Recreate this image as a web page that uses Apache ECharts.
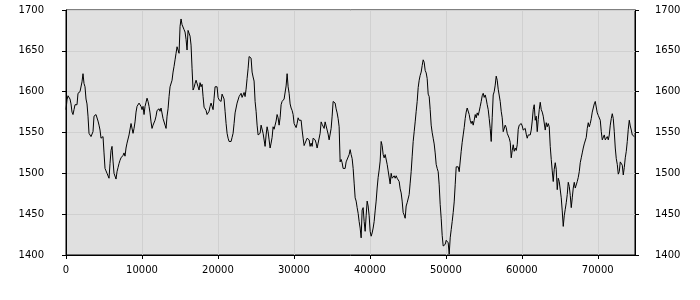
<!DOCTYPE html>
<html>
<head>
<meta charset="utf-8">
<script src="https://cdn.jsdelivr.net/npm/echarts@6/dist/echarts.min.js"></script>
<style>html,body{margin:0;padding:0;background:#fff}#c{width:700px;height:300px}</style>
</head>
<body>
<div id="c"></div>
<script>
// X positions: evenly spaced samples
const xStep = 131.7;
const xMax = 74900;
const yTicks = [1400, 1450, 1500, 1550, 1600, 1650, 1700];
const xTicks = [0, 10000, 20000, 30000, 40000, 50000, 60000, 70000];
// Series values
const values = [
1578,1590,1595,1595,1591,1585,1575,1572,1578,1584,
1582,1584,1598,1598,1600,1600,1612,1622,1610,1606,
1591,1585,1570,1549,1547,1545,1544,1551,1570,1572,
1572,1574,1564,1559,1553,1543,1543,1545,1525,1506,
1503,1500,1500,1494,1512,1528,1533,1515,1500,1498,
1493,1502,1507,1512,1516,1519,1520,1522,1525,1521,
1531,1537,1539,1547,1545,1561,1559,1549,1555,1563,
1575,1582,1582,1586,1585,1582,1578,1582,1572,1582,
1587,1592,1588,1582,1574,1563,1555,1559,1558,1565,
1570,1577,1579,1579,1576,1580,1580,1567,1568,1559,
1555,1570,1579,1594,1606,1606,1614,1624,1631,1639,
1647,1655,1654,
1647,1680,1689,1682,1681,1676,1673,1664,1651,1675,
1675,1668,1657,1628,1602,1605,1610,1614,1614,1606,
1602,1611,1606,1609,1594,1581,1579,1577,1572,1572,
1576,1582,1586,1586,1578,1592,1606,1606,1606,1593,
1590,1590,1588,1597,1596,1591,1576,1561,1549,1543,
1539,1538,1539,1544,1549,1561,1574,1580,1586,1588,
1594,1595,1598,1593,1592,1599,1594,1603,1616,1628,
1643,1644,1641,1624,1618,1613,1588,1576,1559,1547,
1547,1549,1559,1559,1549,1550,1533,1547,1557,1551,
1541,1531,1537,1544,1557,1554,1559,1564,1572,1568,
1559,1568,1584,1588,1586,1591,1592,1607,1622,1606,
1598,1585,1580,1577,
1572,1561,1563,1556,1561,1568,1565,1565,1565,1553,
1543,1534,1537,1537,1543,1545,1541,1533,1537,1533,
1543,1541,1541,1537,1531,1537,1537,1549,1563,1560,
1561,1555,1563,1558,1553,1548,1541,1540,1555,1570,
1588,1587,1586,1579,1574,1567,1557,1514,1517,1513,
1506,1505,1506,1514,1513,1520,1523,1529,1523,1518,
1506,1488,1470,1466,1458,1451,1441,1433,1421,1455,
1458,1441,1429,1448,1466,1460,1448,1429,1423,1427,
1433,1441,1454,1466,1482,1495,1504,1515,1539,1534,
1523,1519,1523,1525,1511,1503,1502,1487,1500,1494,
1494,1497,1494,1497,1494,1496,1490,1481,1476,1466,
1452,1449,1445,1460,
1464,1464,1474,1488,1502,1521,1539,1551,1563,1576,
1588,1605,1614,1620,1624,1632,1639,1636,1626,1623,
1616,1597,1594,1578,1559,1550,1543,1536,1525,1511,
1506,1502,1486,1462,1445,1424,1411,1412,1413,1418,
1419,1415,1401,1421,1431,1441,1452,1465,1486,1508,
1509,1508,1502,1501,1527,1538,1547,1556,1567,1575,
1580,1579,1572,1565,1561,1564,1559,1565,1572,1568,
1574,1571,1576,1582,1588,1595,1598,1593,1596,1591,
1584,1578,1567,1555,1539,1568,1596,1600,1608,1619,
1614,1603,1604,1588,1576,1568,1551,1550,1559,1556,
1549,1549,1543,1538,1519,1528,1535,1527,1531,1528,
1535,1554,1559,1561,
1561,1558,1553,1554,1555,1548,1543,1547,1549,1547,
1553,1564,1578,1584,1565,1570,1551,1566,1578,1587,
1578,1575,1570,1569,1553,1562,1557,1561,1557,1533,
1517,1503,1490,1505,1513,1505,1480,1494,1490,1492,
1470,1454,1435,1448,1456,1464,1474,1489,1484,1473,
1458,1470,1482,1489,1482,1482,1490,1495,1502,1513,
1519,1525,1531,1536,1537,1544,1555,1562,1557,1561,
1567,1575,1580,1585,1588,1588,1574,1571,1570,1565,
1551,1541,1541,1547,1541,1540,1545,1541,1547,1559,
1567,1573,1567,1551,1531,1518,1511,1499,1502,1514,
1513,1510,1498,1507,1519,1527,1539,1554,1565,1558,
1553,1547,1546,1545
];

const seriesData = values.map((v, i) => [i * xStep, v]);
const font = 'DejaVu Sans';
const chart = echarts.init(document.getElementById('c'), null, {renderer: 'canvas'});
const yAxisBase = (pos, margin) => ({
  type: 'value', position: pos, min: yTicks[0], max: yTicks[yTicks.length - 1], interval: 50,
  axisLine: {show: true, lineStyle: {color: '#000', width: 1}},
  axisTick: {show: true, length: 4, lineStyle: {color: '#000'}},
  axisLabel: {color: '#000', fontFamily: font, fontSize: 10, margin: margin,
    formatter: v => yTicks.includes(v) ? String(v) : ''},
  splitLine: {show: pos === 'left', lineStyle: {color: '#d0d0d0', width: 1}}
});
chart.setOption({
  animation: false,
  backgroundColor: '#fff',
  grid: {left: 66, right: 65, top: 10, bottom: 45, show: true, backgroundColor: '#e0e0e0', borderColor: '#000', borderWidth: 1},
  xAxis: {
    type: 'value', min: 0, max: xMax, interval: 10000,
    axisLine: {show: true, onZero: false, lineStyle: {color: '#000', width: 1}},
    axisTick: {show: true, length: 4, lineStyle: {color: '#000'}},
    axisLabel: {color: '#000', fontFamily: font, fontSize: 10, margin: 10, showMaxLabel: false,
      formatter: v => xTicks.includes(v) ? String(v) : ''},
    splitLine: {show: true, lineStyle: {color: '#d0d0d0', width: 1}}
  },
  yAxis: [yAxisBase('left', 22), yAxisBase('right', 20)],
  series: [{
    type: 'line', data: seriesData, yAxisIndex: 0, showSymbol: false, symbol: 'none',
    lineStyle: {color: '#000', width: 1}, silent: true
  }]
});
</script>
</body>
</html>
